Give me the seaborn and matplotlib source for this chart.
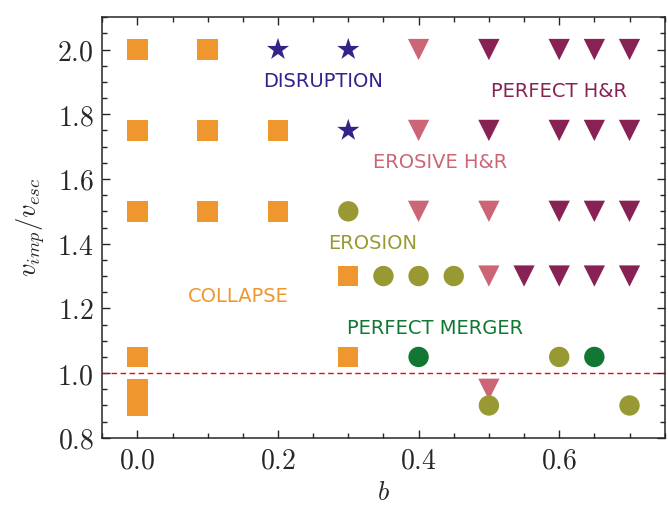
import numpy as np
import pandas as pd
import matplotlib
matplotlib.use("Agg")
import matplotlib.pyplot as plt
from matplotlib.ticker import MultipleLocator, FormatStrFormatter
import seaborn as sns

# ---- data ----
collapse_b = [0.0, 0.1, 0.0, 0.1, 0.2, 0.0, 0.1, 0.2, 0.3, 0.0, 0.3, 0.0, 0.0]
collapse_v = [2.0, 2.0, 1.75, 1.75, 1.75, 1.5, 1.5, 1.5, 1.3, 1.05, 1.05, 0.95, 0.9]
disruption_b = [0.2, 0.3, 0.3]
disruption_v = [2.0, 2.0, 1.75]
erosive_hr_b = [0.4, 0.4, 0.4, 0.5, 0.5, 0.5]
erosive_hr_v = [2.0, 1.75, 1.5, 1.5, 1.3, 0.95]
perfect_hr_b = [0.5, 0.6, 0.65, 0.7, 0.5, 0.6, 0.65, 0.7, 0.6, 0.65, 0.7, 0.55, 0.6, 0.65, 0.7]
perfect_hr_v = [2.0, 2.0, 2.0, 2.0, 1.75, 1.75, 1.75, 1.75, 1.5, 1.5, 1.5, 1.3, 1.3, 1.3, 1.3]
erosion_b = [0.3, 0.35, 0.4, 0.45, 0.6, 0.5, 0.7]
erosion_v = [1.5, 1.3, 1.3, 1.3, 1.05, 0.9, 0.9]
merger_b = [0.4, 0.65]
merger_v = [1.05, 1.05]

categories = ["COLLAPSE", "DISRUPTION", "EROSIVE H&R", "PERFECT H&R", "EROSION", "PERFECT MERGER"]
label_pos_b = [0.143, 0.264, 0.43, 0.60, 0.335, 0.424]
label_pos_v = [1.238, 1.90, 1.65, 1.87, 1.40, 1.139]

colors = ["#F0962E", "#332288", "#CC6677", "#882255", "#999933", "#117733"]
markers = ["s", "*", "v", "v", "o", "o"]
sizes = [215, 280, 235, 235, 215, 215]

groups = [(collapse_b, collapse_v), (disruption_b, disruption_v), (erosive_hr_b, erosive_hr_v),
          (perfect_hr_b, perfect_hr_v), (erosion_b, erosion_v), (merger_b, merger_v)]
rows = []
for cat, (bs, vs) in zip(categories, groups):
    for b, v in zip(bs, vs):
        rows.append({"b": b, "v": v, "cat": cat})
df = pd.DataFrame(rows)

sns.set_style("ticks")
plt.rcParams["mathtext.fontset"] = "cm"
plt.rcParams["font.family"] = ["DejaVu Sans"]

fig = plt.figure(figsize=(6.68, 5.05), dpi=100)
ax = fig.add_axes([0.153, 0.133, 0.842, 0.833])

ax.axhline(1.0, color="red", ls=(0, (4, 2.5)), lw=1.0, zorder=1)

for cat, col, mk, sz in zip(categories, colors, markers, sizes):
    sub = df[df["cat"] == cat]
    sns.scatterplot(data=sub, x="b", y="v", color=col, marker=mk, s=sz,
                    edgecolor="none", linewidth=0, ax=ax, zorder=3, legend=False)

for cat, col, xb, yv in zip(categories, colors, label_pos_b, label_pos_v):
    ax.text(xb, yv, cat, color=col, fontsize=14, ha="center", va="center",
            family="DejaVu Sans")

ax.set_xlim(-0.05, 0.75)
ax.set_ylim(0.8, 2.1)
ax.xaxis.set_major_locator(MultipleLocator(0.2))
ax.xaxis.set_minor_locator(MultipleLocator(0.05))
ax.yaxis.set_major_locator(MultipleLocator(0.2))
ax.yaxis.set_minor_locator(MultipleLocator(0.05))
ax.xaxis.set_major_formatter(FormatStrFormatter(r"$%.1f$"))
ax.yaxis.set_major_formatter(FormatStrFormatter(r"$%.1f$"))
ax.tick_params(which="both", direction="in", top=True, right=True, width=1.0, labelsize=20)
ax.tick_params(which="major", length=6, pad=6)
ax.tick_params(which="minor", length=3.5)
for s in ax.spines.values():
    s.set_linewidth(1.1)

ax.set_xlabel(r"$b$", fontsize=19, labelpad=4)
ax.set_ylabel(r"$v_{imp}/v_{esc}$", fontsize=19, labelpad=7)

fig.savefig("out.png", dpi=100)
